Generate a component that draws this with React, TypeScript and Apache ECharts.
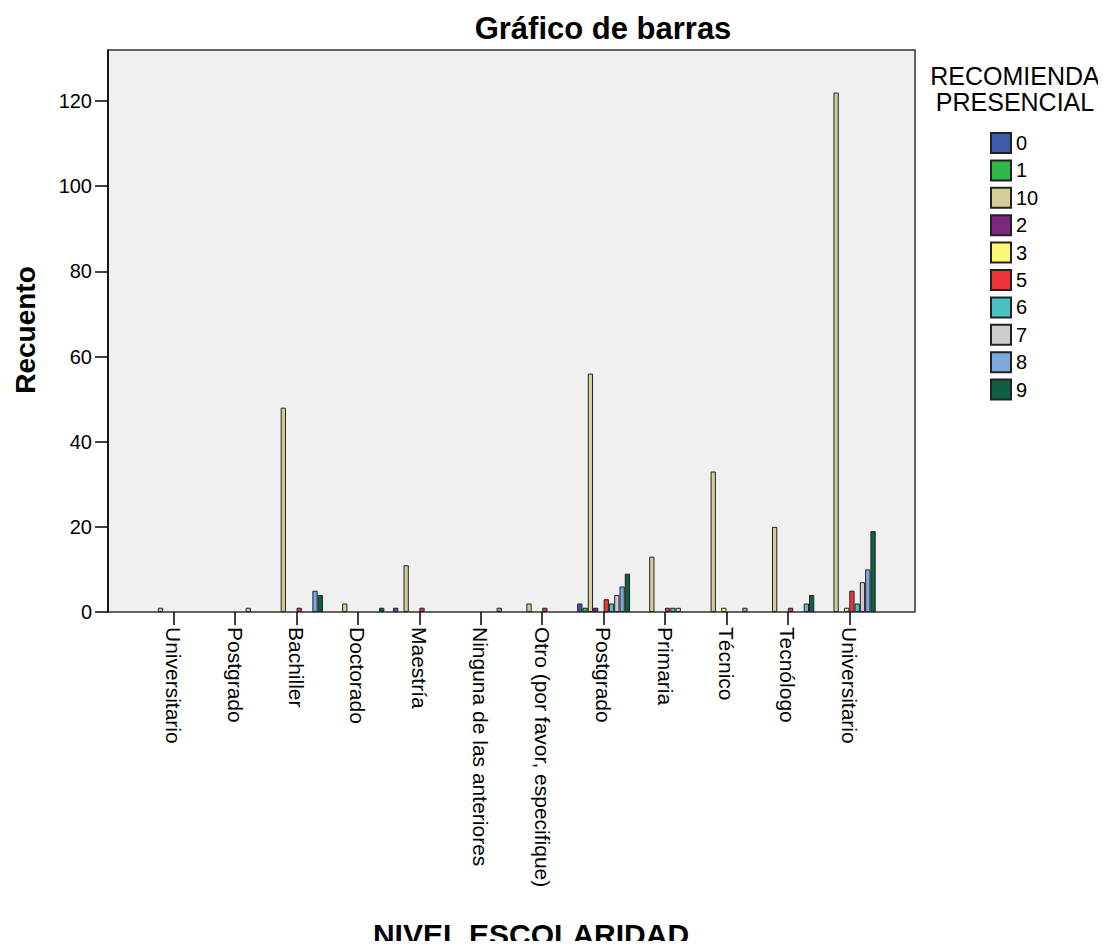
import React, { useEffect, useRef } from "react";
import * as echarts from "echarts";

const categories = [
  "Universitario",
  "Postgrado",
  "Bachiller",
  "Doctorado",
  "Maestría",
  "Ninguna de las anteriores",
  "Otro (por favor, especifique)",
  "Postgrado",
  "Primaria",
  "Técnico",
  "Tecnólogo",
  "Universitario",
];

const seriesNames = ["0", "1", "10", "2", "3", "5", "6", "7", "8", "9"];
const seriesColors = ["#3e58ac", "#2eb848", "#d3ce97", "#7c287d", "#fbf873", "#ef3338", "#48c2c5", "#cccccc", "#7baad9", "#0d6043"];

const s0 = [0, 0, 0, 0, 1, 0, 0, 2, 0, 0, 0, 0];
const s1 = [0, 0, 0, 0, 0, 0, 0, 1, 0, 0, 0, 0];
const s10 = [1, 0, 48, 2, 11, 0, 2, 56, 13, 33, 20, 122];
const s2 = [0, 0, 0, 0, 0, 0, 0, 1, 0, 0, 0, 0];
const s3 = [0, 0, 0, 0, 0, 0, 0, 0, 0, 1, 0, 1];
const s5 = [0, 0, 1, 0, 1, 0, 1, 3, 1, 0, 1, 5];
const s6 = [0, 0, 0, 0, 0, 0, 0, 2, 1, 0, 0, 2];
const s7 = [0, 1, 0, 0, 0, 0, 0, 4, 1, 0, 0, 7];
const s8 = [0, 0, 5, 0, 0, 1, 0, 6, 0, 1, 2, 10];
const s9 = [0, 0, 4, 1, 0, 0, 0, 9, 0, 0, 4, 19];
const seriesValues = [s0, s1, s10, s2, s3, s5, s6, s7, s8, s9];

const yTicks = [0, 20, 40, 60, 80, 100, 120];
const yMax = 132;

const FONT = "'Liberation Sans', Arial, sans-serif";

export default function App() {
  const ref = useRef<HTMLDivElement>(null);
  useEffect(() => {
    if (!ref.current) return;
    const chart = echarts.init(ref.current, null, { renderer: "svg" });
    const plot = { left: 108, top: 50, width: 807, height: 562 };
    const series = seriesNames.map((name, i) => ({
      name,
      type: "bar",
      xAxisIndex: 1,
      yAxisIndex: 1,
      barGap: "0%",
      barCategoryGap: "14%",
      itemStyle: { color: seriesColors[i], borderColor: "#222", borderWidth: 1 },
      data: seriesValues[i].map((v) => (v === 0 ? "-" : v)),
    }));
    chart.setOption({
      animation: false,
      textStyle: { fontFamily: FONT },
      grid: [
        { left: plot.left, top: plot.top, width: plot.width, height: plot.height, show: true, backgroundColor: "#f0f0f0", borderColor: "#333", borderWidth: 1.5 },
        { left: 143, top: plot.top, width: 737, height: plot.height },
      ],
      xAxis: [
        { gridIndex: 0, type: "value", show: false },
        {
          gridIndex: 1,
          type: "category",
          data: categories,
          axisLine: { show: false },
          axisTick: { show: true, alignWithLabel: true, length: 13, lineStyle: { color: "#000", width: 1.5 } },
          axisLabel: { rotate: -90, margin: 15, fontSize: 21, color: "#000", fontFamily: FONT, interval: 0 },
        },
      ],
      yAxis: [
        {
          gridIndex: 0,
          type: "value",
          min: 0,
          max: yMax,
          splitLine: { show: false },
          axisLine: { show: true, lineStyle: { color: "#000", width: 1.5 } },
          axisTick: { show: true, length: 13, customValues: yTicks, lineStyle: { color: "#000", width: 1.5 } },
          axisLabel: { fontSize: 20, color: "#000", margin: 16, fontFamily: FONT, customValues: yTicks },
        },
        { gridIndex: 1, type: "value", min: 0, max: yMax, show: false },
      ],
      legend: {
        orient: "vertical",
        left: 990,
        top: 132,
        padding: 0,
        itemWidth: 20,
        itemHeight: 20,
        itemGap: 5.4,
        icon: "rect",
        textStyle: { fontSize: 20, color: "#000", fontFamily: FONT },
        data: seriesNames,
      },
      graphic: [
        { type: "text", style: { text: "Gráfico de barras", x: 603, y: 28, align: "center", verticalAlign: "middle", fill: "#000", font: `bold 31px ${FONT}` } },
        { type: "text", style: { text: "NIVEL ESCOLARIDAD", x: 531, y: 934, align: "center", verticalAlign: "middle", fill: "#000", font: `bold 30px ${FONT}` } },
        { type: "text", x: 25, y: 330, rotation: Math.PI / 2, style: { text: "Recuento", x: 0, y: 0, align: "center", verticalAlign: "middle", fill: "#000", font: `bold 28px ${FONT}` } },
        { type: "text", style: { text: "RECOMIENDA", x: 1015, y: 76, align: "center", verticalAlign: "middle", fill: "#000", font: `25px ${FONT}` } },
        { type: "text", style: { text: "PRESENCIAL", x: 1015, y: 102, align: "center", verticalAlign: "middle", fill: "#000", font: `25px ${FONT}` } },
      ],
      series,
    });
    return () => chart.dispose();
  }, []);
  return <div ref={ref} style={{ width: 1106, height: 949, margin: -8 }} />;
}
